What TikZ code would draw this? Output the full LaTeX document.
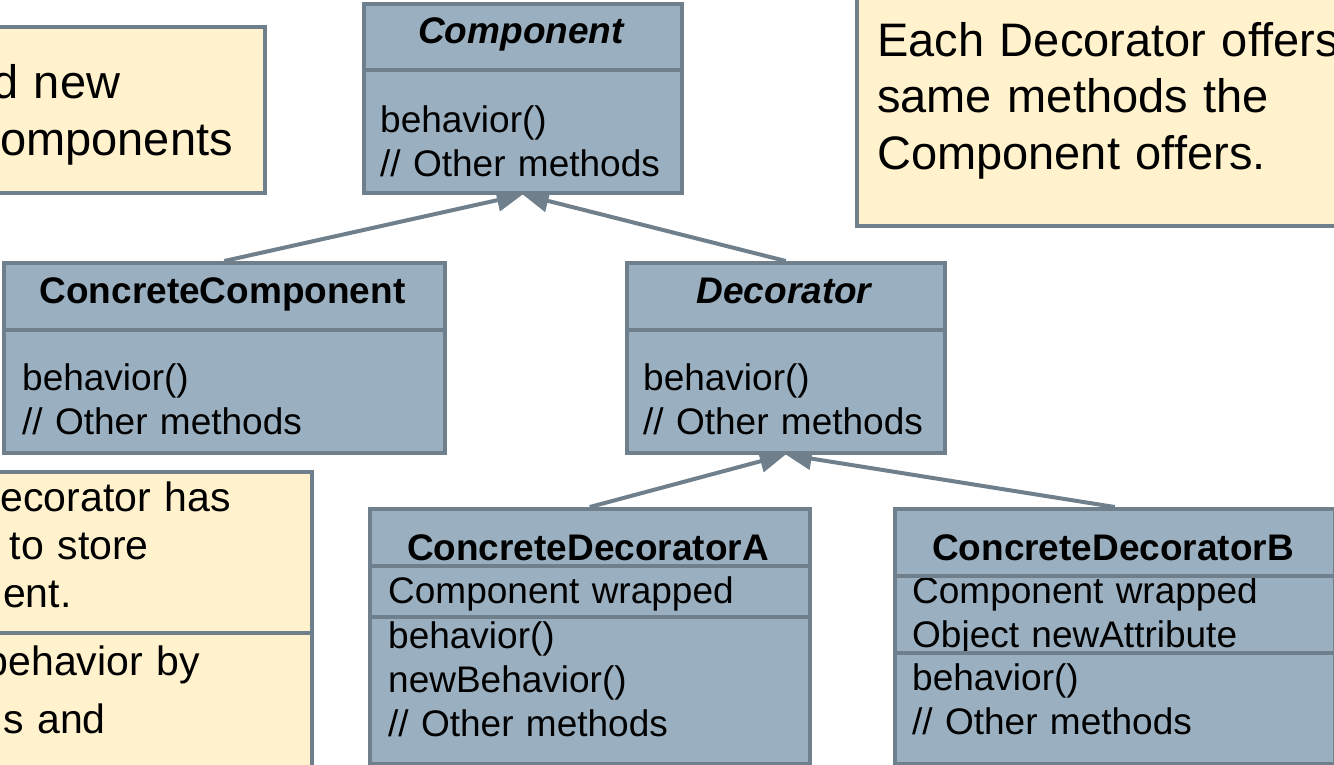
\documentclass[tikz,border=0pt]{standalone}
\usepackage{fontspec}
\setmainfont{Liberation Sans}
\usetikzlibrary{arrows.meta,backgrounds}
\definecolor{clsfill}{RGB}{154,176,192}
\definecolor{clsline}{RGB}{111,128,140}
\definecolor{notefill}{RGB}{255,242,204}

\begin{document}
\begin{tikzpicture}[x=1pt,y=-1pt,
   cls/.style={draw=clsline,fill=clsfill,line width=3.5pt,inner sep=0pt,anchor=north west},
   note/.style={draw=clsline,fill=notefill,line width=3.5pt,inner sep=0pt,anchor=north west},
   divider/.style={draw=clsline,line width=3.5pt},
   ttl/.style={anchor=base,inner sep=0pt,font={\fontsize{37}{44}\selectfont\bfseries}},
   ops/.style={anchor=base west,inner sep=0pt,text width=500pt,align=left,font={\fontsize{37}{44}\selectfont}},
   remark/.style={anchor=base west,inner sep=0pt,text width=600pt,align=left,font={\fontsize{#1}{56.5}\selectfont}},
   remark/.default=47,
   inh/.style={draw=clsline,line width=4pt,-{Triangle[length=26pt,width=22pt]}}]
\useasboundingbox (0,0) rectangle (1334,764);
% notes
\node[note,minimum width=290pt,minimum height=166pt] (noteNew) at (-27,25) {};
\node[remark] (noteNewA) at (-8,98) {d new};
\node[remark] (noteNewB) at (0,155) {omponents};
\node[note,minimum width=520pt,minimum height=250pt] (noteSame) at (855,-26) {};
\node[remark] (noteSameText) at (877,56) {Each Decorator offers\\same methods the\\Component offers.};
\node[note,minimum width=340pt,minimum height=330pt] (noteField) at (-30,470) {};
\node[remark=41] (noteFieldA) at (0.5,511) {ecorator has};
\node[remark=41] (noteFieldB) at (9.5,559) {to store};
\node[remark=41] (noteFieldC) at (3,607) {ent.};
\node[remark=41] (noteFieldD) at (-14.5,675) {behavior by};
\node[remark=41] (noteFieldE) at (3,733) {s and};
\draw[divider] ([yshift=-163pt]noteField.north west) -- ([yshift=-163pt]noteField.north east);
% classes
\node[cls,minimum width=318pt,minimum height=189pt] (comp) at (362,2) {};
\node[cls,minimum width=441pt,minimum height=190pt] (concomp) at (2,261) {};
\node[cls,minimum width=318pt,minimum height=190pt] (deco) at (625,261) {};
\node[cls,minimum width=440pt,minimum height=255pt] (decoA) at (368,507) {};
\node[cls,minimum width=440pt,minimum height=255pt] (decoB) at (893,507) {};
\node[ttl] (compName) at (521,43) {\itshape Component};
\node[ops] (compOps) at (380,132) {behavior()\\// Other methods};
\node[ttl] (concompName) at (222.5,303) {ConcreteComponent};
\node[ops] (concompOps) at (22,390) {behavior()\\// Other methods};
\node[ttl] (decoName) at (784,303) {\itshape Decorator};
\node[ops] (decoOps) at (643,390) {behavior()\\// Other methods};
\node[ttl] (decoAName) at (588,560) {ConcreteDecoratorA};
\node[ops] (decoAAttr) at (388,603) {Component wrapped};
\node[ops] (decoAOps) at (388,648) {behavior()\\newBehavior()\\// Other methods};
\node[ttl] (decoBName) at (1113,560) {ConcreteDecoratorB};
\node[ops] (decoBAttr) at (912,603) {Component wrapped\\Object newAttribute};
\node[ops] (decoBOps) at (912,690) {behavior()\\// Other methods};
\draw[divider] ([yshift=-68pt]comp.north west) -- ([yshift=-68pt]comp.north east);
\draw[divider] ([yshift=-69pt]concomp.north west) -- ([yshift=-69pt]concomp.north east);
\draw[divider] ([yshift=-69pt]deco.north west) -- ([yshift=-69pt]deco.north east);
\draw[divider] ([yshift=-59pt]decoA.north west) -- ([yshift=-59pt]decoA.north east);
\draw[divider] ([yshift=-110pt]decoA.north west) -- ([yshift=-110pt]decoA.north east);
\draw[divider] ([yshift=-69pt]decoB.north west) -- ([yshift=-69pt]decoB.north east);
\draw[divider] ([yshift=-146pt]decoB.north west) -- ([yshift=-146pt]decoB.north east);
% inheritance
\begin{scope}[on background layer]
\draw[inh] (concomp.north) -- (comp.south);
\draw[inh] (deco.north) -- (comp.south);
\draw[inh] (decoA.north) -- (deco.south);
\draw[inh] (decoB.north) -- (deco.south);
\end{scope}
\end{tikzpicture}
\end{document}
